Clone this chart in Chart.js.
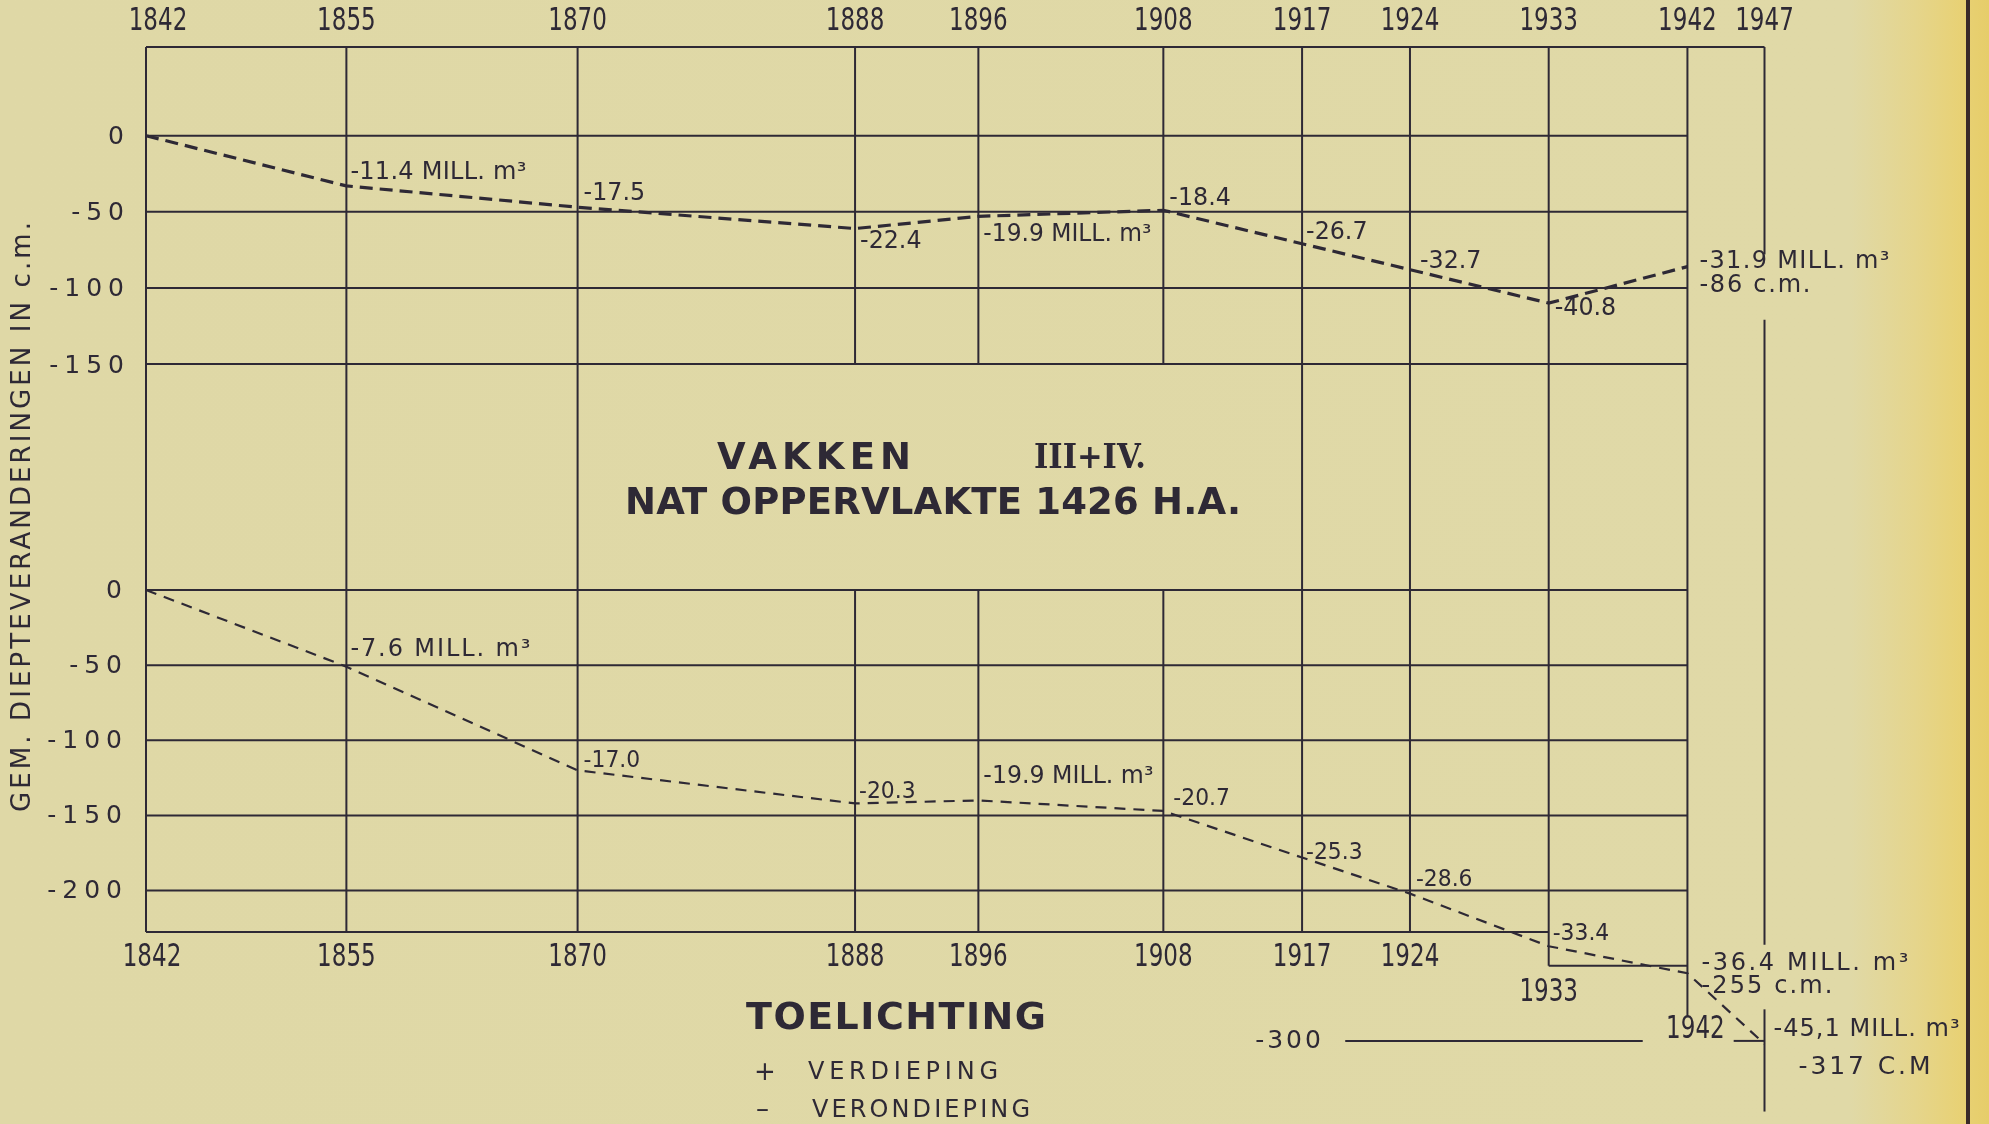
<!DOCTYPE html>
<html>
<head>
<meta charset="utf-8">
<script src="https://cdn.jsdelivr.net/npm/chart.js@4"></script>
<style>
  html, body { margin:0; padding:0; }
  body {
    width:1989px; height:1124px; overflow:hidden;
    background: linear-gradient(to right, #dfd8a6 0px, #e0d9a7 1850px, #e5d58c 1915px, #e8d174 1962px, #e6cd6a 1989px);
  }
  canvas { display:block; }
  #edge { position:absolute; left:1966px; top:0; width:4px; height:1124px; background:#3a2a28; }
</style>
</head>
<body>
<canvas id="chart" width="1989" height="1124" style="width:1989px;height:1124px"></canvas>
<div id="edge"></div>
<script>
/* ---------- data ---------- */
const years       = [1842, 1855, 1870, 1888, 1896, 1908, 1917, 1924, 1933, 1942];
const lowerYears  = [1842, 1855, 1870, 1888, 1896, 1908, 1917, 1924, 1933, 1942, 1947];
const upperDepth  = [0, -33, -47, -61, -53, -49, -71, -88, -110, -86];
const lowerDepth  = [0, -51, -120, -142, -140, -147, -178, -202, -237, -255, -302];
const upperNotes  = ["", "-11.4 MILL. m³", "-17.5", "-22.4", "-19.9 MILL. m³", "-18.4", "-26.7", "-32.7", "-40.8", "-31.9 MILL. m³"];
const lowerNotes  = ["", "-7.6 MILL. m³", "-17.0", "-20.3", "-19.9 MILL. m³", "-20.7", "-25.3", "-28.6", "-33.4", "-36.4 MILL. m³", "-45,1 MILL. m³"];
const upperTicks  = [0, -50, -100, -150];
const lowerTicks  = [0, -50, -100, -150, -200];
const topYears    = lowerYears;
const bottomYears = years;

/* ---------- frame of the sheet ---------- */
const shortVerticals = [1888, 1896, 1908];
const lowerFloor = -227.5;
const stepFloor = -250;
const floor1942 = -284;
const refLine = -300;

const FONT = '"DejaVu Sans", sans-serif';
const INK = '#2e2935';

function put(ctx, s, left, cy, o){
  ctx.save();
  ctx.font = `${o.weight || 'normal'} ${o.size}px ${FONT}`;
  ctx.fillStyle = o.color || INK;
  ctx.textBaseline = 'middle';
  ctx.textAlign = 'left';
  ctx.letterSpacing = '0px';
  const n = [...s].length;
  const w0 = ctx.measureText(s).width;
  let sx = o.sx || 1, ls = o.ls || 0;
  if (o.w){
    if (w0 * sx < o.w && n > 1) ls = (o.w - w0 * sx) / (n - 1) / sx;
    else sx = o.w / w0;
  }
  const W = (w0 + ls * (n - 1)) * sx;
  let x0 = left;
  if (o.align === 'center') x0 = left - W / 2;
  if (o.align === 'right') x0 = left - W;
  ctx.letterSpacing = ls + 'px';
  ctx.translate(x0, cy);
  ctx.scale(sx, 1);
  ctx.fillText(s, 0, 0);
  ctx.restore();
}

/* ---------- grid as on the original sheet ---------- */
const paperGrid = {
  id: 'paperGrid',
  beforeDatasetsDraw(chart){
    const {ctx, chartArea: a, scales: {x, yTop, yBot}} = chart;
    const X = v => x.getPixelForValue(v), T = v => yTop.getPixelForValue(v), B = v => yBot.getPixelForValue(v);
    ctx.save();
    ctx.strokeStyle = INK;
    ctx.lineWidth = 2;
    const seg = (x1, y1, x2, y2) => { ctx.beginPath(); ctx.moveTo(x1, y1); ctx.lineTo(x2, y2); ctx.stroke(); };

    seg(X(1842), a.top, X(1947), a.top);
    upperTicks.forEach(v => seg(X(1842), T(v), X(1942), T(v)));
    lowerTicks.forEach(v => seg(X(1842), B(v), X(1942), B(v)));
    seg(X(1842), B(lowerFloor), X(1933), B(lowerFloor));
    seg(X(1933), B(stepFloor), X(1942), B(stepFloor));

    years.forEach(yr => {
      if (shortVerticals.includes(yr)){
        seg(X(yr), a.top, X(yr), T(-150));
        seg(X(yr), B(0), X(yr), B(lowerFloor));
      } else {
        const end = yr === 1933 ? stepFloor : yr === 1942 ? floor1942 : lowerFloor;
        seg(X(yr), a.top, X(yr), B(end));
      }
    });

    // 1947 line with gaps for the notes
    seg(X(1947), a.top, X(1947), T(-78));
    seg(X(1947), T(-121), X(1947), B(-236));
    seg(X(1947), B(-279), X(1947), B(-347));

    // -300 reference
    seg(X(1919.8), B(refLine), X(1939.1), B(refLine));
    seg(X(1945), B(refLine), X(1947), B(refLine));
    ctx.restore();
  }
};

/* ---------- lettering ---------- */
const lettering = {
  id: 'lettering',
  afterDatasetsDraw(chart){
    const {ctx, scales: {x, yTop, yBot}} = chart;
    const X = v => x.getPixelForValue(v), T = v => yTop.getPixelForValue(v), B = v => yBot.getPixelForValue(v);

    // year labels
    topYears.forEach(yr => put(ctx, String(yr), X(yr) + (yr === 1842 ? 12 : 0), 22, {size: 32, sx: 0.72, align: 'center'}));
    bottomYears.forEach(yr => {
      let cy = B(lowerFloor) + 26, dx = 0;
      if (yr === 1933) cy = B(stepFloor) + 27;
      if (yr === 1942){ cy = B(floor1942) + 13; dx = 8; }
      if (yr === 1842) dx = 6;
      put(ctx, String(yr), X(yr) + dx, cy, {size: 32, sx: 0.72, align: 'center'});
    });

    // value ticks
    upperTicks.forEach(v => put(ctx, String(v), 124, T(v) + 2, {size: 25, ls: 6, align: 'right'}));
    lowerTicks.forEach(v => put(ctx, String(v), 122, B(v) + 1, {size: 25, ls: 6, align: 'right'}));
    put(ctx, String(refLine), 1288, B(refLine) + 1, {size: 25, ls: 3, align: 'center'});

    // axis title
    ctx.save();
    ctx.translate(23, 517);
    ctx.rotate(-Math.PI / 2);
    put(ctx, 'GEM. DIEPTEVERANDERINGEN IN c.m.', 0, 0, {size: 26, w: 590, align: 'center'});
    ctx.restore();

    // notes along the upper line
    const upOff = [null, [4,-13,176], [6,-14], [5,13], [5,18,168], [6,-12], [4,-11], [10,-8], [6,5], [12,-5,190]];
    upperNotes.forEach((s, i) => {
      if (!s) return;
      const o = upOff[i];
      put(ctx, s, X(years[i]) + o[0], T(upperDepth[i]) + o[1], {size: o[2] ? 24 : 25, w: o[2], sx: o[2] ? 1 : 0.95});
    });
    put(ctx, '-86 c.m.', X(1942) + 12, T(upperDepth[9]) + 19, {size: 24, w: 111});

    const loOff = [null, [4,-17,180], [6,-9], [4,-11], [5,-24,170], [10,-12], [4,-5], [6,-14], [4,-12], [14,-9,207], [9,-14,186]];
    lowerNotes.forEach((s, i) => {
      if (!s) return;
      const o = loOff[i];
      put(ctx, s, X(lowerYears[i]) + o[0], B(lowerDepth[i]) + o[1], {size: o[2] ? 24 : 23, w: o[2], sx: o[2] ? 1 : 0.95});
    });
    put(ctx, '-255 c.m.', X(1942) + 14, B(lowerDepth[9]) + 14, {size: 24, w: 131});
    put(ctx, '-317 C.M', X(1947) + 34, B(lowerDepth[10]) + 24, {size: 25, w: 132});

    // title block
    put(ctx, 'VAKKEN', 717, 459, {size: 37, weight: 'bold', w: 194});
    ctx.save();
    ctx.font = `bold 34px "DejaVu Serif", serif`;
    ctx.fillStyle = INK; ctx.textBaseline = 'middle';
    ctx.translate(1034, 459);
    ctx.scale(0.9, 1);
    ctx.fillText('III+IV.', 0, 0);
    ctx.restore();
    put(ctx, 'NAT OPPERVLAKTE 1426 H.A.', 625, 504, {size: 37, weight: 'bold', w: 616});

    // legend
    put(ctx, 'TOELICHTING', 746, 1019, {size: 38, weight: 'bold', w: 300});
    put(ctx, '+', 754, 1073, {size: 26});
    put(ctx, 'VERDIEPING', 808, 1073, {size: 24, w: 190});
    put(ctx, '–', 756, 1110, {size: 26});
    put(ctx, 'VERONDIEPING', 812, 1111, {size: 24, w: 218});
  }
};

/* ---------- chart ---------- */
const upperPx = 1.522, lowerPx = 1.503;       // px per cm on the sheet
const areaTop = 47, areaBottom = 1067;
const H = areaBottom - areaTop;
const upperMax = (135.7 - areaTop) / upperPx;
const lowerMax = (590 - areaTop) / lowerPx;

new Chart(document.getElementById('chart').getContext('2d'), {
  type: 'line',
  data: {
    datasets: [
      {
        label: 'boven',
        data: years.map((yr, i) => ({x: yr, y: upperDepth[i]})),
        yAxisID: 'yTop',
        borderColor: INK,
        borderWidth: 3.2,
        borderDash: [13, 7],
        pointRadius: 0,
        tension: 0,
        clip: false
      },
      {
        label: 'onder',
        data: lowerYears.map((yr, i) => ({x: yr, y: lowerDepth[i]})),
        yAxisID: 'yBot',
        borderColor: INK,
        borderWidth: 2.2,
        borderDash: [11, 8],
        pointRadius: 0,
        tension: 0,
        clip: false
      }
    ]
  },
  options: {
    responsive: false,
    animation: false,
    devicePixelRatio: 1,
    layout: { padding: { left: 146, right: 1989 - 1764.5, top: areaTop, bottom: 1124 - areaBottom } },
    plugins: { legend: { display: false }, tooltip: { enabled: false } },
    scales: {
      x:    { type: 'linear', min: 1842, max: 1947, display: false },
      yTop: { type: 'linear', max: upperMax, min: upperMax - H / upperPx, display: false },
      yBot: { type: 'linear', max: lowerMax, min: lowerMax - H / lowerPx, display: false }
    }
  },
  plugins: [paperGrid, lettering]
});
</script>
</body>
</html>
